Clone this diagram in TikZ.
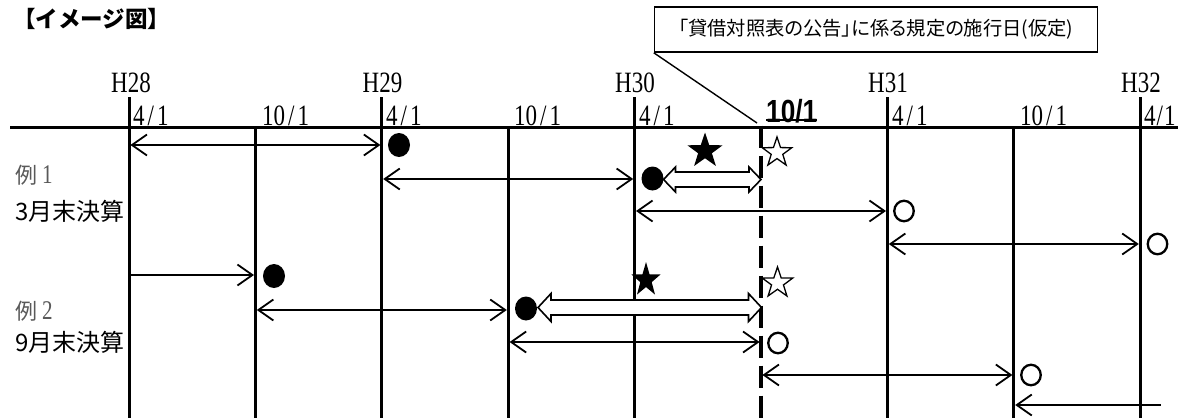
\documentclass[tikz,border=0pt]{standalone}
\usepackage{fontspec}
\usetikzlibrary{arrows.meta,shapes.geometric}
\newfontfamily\jp{Noto Sans CJK JP}
\newfontfamily\jpp[RawFeature=+palt]{Noto Sans CJK JP}
\newfontfamily\mincho[FakeStretch=0.78]{Liberation Serif}
\newfontfamily\gothnum[FakeStretch=0.82]{Liberation Sans}
\tikzset{
  vline/.style={line width=3pt},
  dline/.style={line width=4.5pt, dash pattern=on 22pt off 8pt},
  axisline/.style={line width=3pt},
  arr/.style={line width=1.8pt, shorten <=1.4pt, shorten >=1.4pt},
  hollow/.style={line width=1.6pt, fill=white, line join=miter},
  dot/.style={ellipse, fill=black, minimum width=22pt, minimum height=24pt, inner sep=0pt},
  ring/.style={ellipse, draw, line width=2.3pt, minimum width=19.5pt, minimum height=20.5pt, inner sep=0pt},
  bstar/.style={star, star points=5, star point ratio=2.55, fill=black, inner sep=0pt},
  wstar/.style={star, star points=5, star point ratio=2.55, draw, line width=1.3pt, inner sep=0pt},
  hlab/.style={font=\mincho\fontsize{29.5}{31}\selectfont, inner sep=0pt, anchor=base},
  dlab/.style={font=\mincho\fontsize{29.5}{31}\selectfont, inner sep=0pt, anchor=base west},
  rowlab/.style={font=\jp\fontsize{24}{26}\selectfont, inner sep=0pt, anchor=base west},
  exlab/.style={font=\fontsize{22}{24}\selectfont, text=black!65, inner sep=0pt, anchor=base west},
}
\begin{document}
\begin{tikzpicture}[x=1pt, y=-1pt, >={Straight Barb[length=15pt,width=21pt]}]
\fill[white] (0,0) rectangle (1178,418);
\useasboundingbox (0,0) rectangle (1178,418);

% grid coordinates
\foreach \i/\x in {0/129,1/255.4,2/381.8,3/508.2,4/634.6,5/761,6/887.4,7/1013.8,8/1140.2}
  \coordinate (L\i) at (\x,0);
\coordinate (tick) at (0,97);
\coordinate (ax) at (0,127);
\coordinate (bot) at (0,418);
\coordinate (axL) at (10,127);
\coordinate (axR) at (1178,127);

% row coordinates
\coordinate (rA) at (0,145);
\coordinate (rB) at (0,179);
\coordinate (rC) at (0,211);
\coordinate (rD) at (0,244);
\coordinate (rE) at (0,275);
\coordinate (rF) at (0,310);
\coordinate (rG) at (0,342);
\coordinate (rH) at (0,375);
\coordinate (rI) at (0,405);

% title
\node[font=\jp\bfseries\fontsize{22.5}{24}\selectfont, inner sep=0pt, anchor=base west] (title) at (13,27) {【イメージ図】};

% callout
\node[draw, line width=1.5pt, minimum width=443pt, minimum height=45pt, inner sep=0pt,
      font=\jpp\fontsize{19.3}{21}\selectfont] (call) at (876,29.5) {「貸借対照表の公告」に係る規定の施行日(仮定)};
\coordinate (ptr) at (757,123);
\draw[line width=1.4pt] (call.south west) -- (ptr);

% axis
\draw[axisline] (axL) -- (axR);

% vertical lines
\foreach \i in {0,2,4,6,8} \draw[vline] (L\i|-tick) -- (L\i|-bot);
\foreach \i in {1,3,7} \draw[vline] (L\i|-ax) -- (L\i|-bot);
\draw[dline] ([yshift=1.5pt]L5|-ax) -- (L5|-bot);

% year labels
\node[hlab] (h28) at (131,92) {H28};
\node[hlab] (h29) at (382.5,92) {H29};
\node[hlab] (h30) at (635,92) {H30};
\node[hlab] (h31) at (888,92) {H31};
\node[hlab] (h32) at (1141,92) {H32};

% date labels
\node[dlab] (d0) at (133,125) {4\kern3pt/\kern3pt1};
\node[dlab] (d1) at (262,125) {10\kern3pt/\kern3pt1};
\node[dlab] (d2) at (386,125) {4\kern3pt/\kern3pt1};
\node[dlab] (d3) at (514,125) {10\kern3pt/\kern3pt1};
\node[dlab] (d4) at (639,125) {4\kern3pt/\kern3pt1};
\node[font=\gothnum\bfseries\fontsize{32}{34}\selectfont, inner sep=0pt, anchor=base west] (d5) at (766,122) {10/1};
\draw[line width=2pt] ([yshift=2.5pt]d5.base west) -- ([yshift=2.5pt]d5.base east);
\node[dlab] (d6) at (892,125) {4\kern3pt/\kern3pt1};
\node[dlab] (d7) at (1020,125) {10\kern3pt/\kern3pt1};
\node[dlab] (d8) at (1144,125) {4\kern1pt/\kern1pt1};

% row labels
\node[exlab] (ex1) at (15,183) {{\jp 例}\kern5pt{\mincho\fontsize{27}{28}\selectfont 1}};
\node[rowlab] (m3) at (15,220) {3月末決算};
\node[exlab] (ex2) at (15,319) {{\jp 例}\kern5pt{\mincho\fontsize{27}{28}\selectfont 2}};
\node[rowlab] (m9) at (15,351) {9月末決算};

% ---- Example 1 ----
\draw[arr,<->] (L0|-rA) -- (L2|-rA);
\node[dot] (dA) at (399,145) {};
\draw[arr,<->] (L2|-rB) -- (L4|-rB);
\node[dot] (dB) at (652.5,178.5) {};
\coordinate (h1a) at (663.5,179.5);
\coordinate (h1b) at (761,179.5);
\draw[hollow] (h1a) -- ++(12,-12.5) -- ++(0,5) -- ++(73.5,0) -- ++(0,-5) -- (h1b)
  -- ++(-12,12.5) -- ++(0,-5) -- ++(-73.5,0) -- ++(0,5) -- cycle;
\node[bstar, minimum size=37pt] (s1) at (705,151) {};
\node[wstar, minimum size=31pt] (w1) at (777,152.5) {};
\draw[arr,<->] (L4|-rC) -- (L6|-rC);
\node[ring] (oC) at (904,211) {};
\draw[arr,<->] (L6|-rD) -- (L8|-rD);
\node[ring] (oD) at (1157.5,244) {};

% ---- Example 2 ----
\draw[arr,->] ([xshift=-1.4pt]L0|-rE) -- (L1|-rE);
\node[dot] (dE) at (274,276) {};
\draw[arr,<->] (L1|-rF) -- (L3|-rF);
\node[dot] (dF) at (526,308.5) {};
\coordinate (h2a) at (538,307.5);
\coordinate (h2b) at (761.5,307.5);
\draw[hollow] (h2a) -- ++(13,-14) -- ++(0,6.5) -- ++(197.5,0) -- ++(0,-6.5) -- (h2b)
  -- ++(-13,14) -- ++(0,-6.5) -- ++(-197.5,0) -- ++(0,6.5) -- cycle;
\node[bstar, minimum size=36pt, xscale=0.85, transform shape] (s2) at (646,280) {};
\node[wstar, minimum size=32pt] (w2) at (777.5,283) {};
\draw[arr,<->] (L3|-rG) -- (L5|-rG);
\node[ring] (oG) at (778,343) {};
\draw[arr,<->] (L5|-rH) -- (L7|-rH);
\node[ring] (oH) at (1031,375) {};
\coordinate (iEnd) at (1162,405);
\draw[arr,->] (iEnd) -- (L7|-rI);
\end{tikzpicture}
\end{document}
